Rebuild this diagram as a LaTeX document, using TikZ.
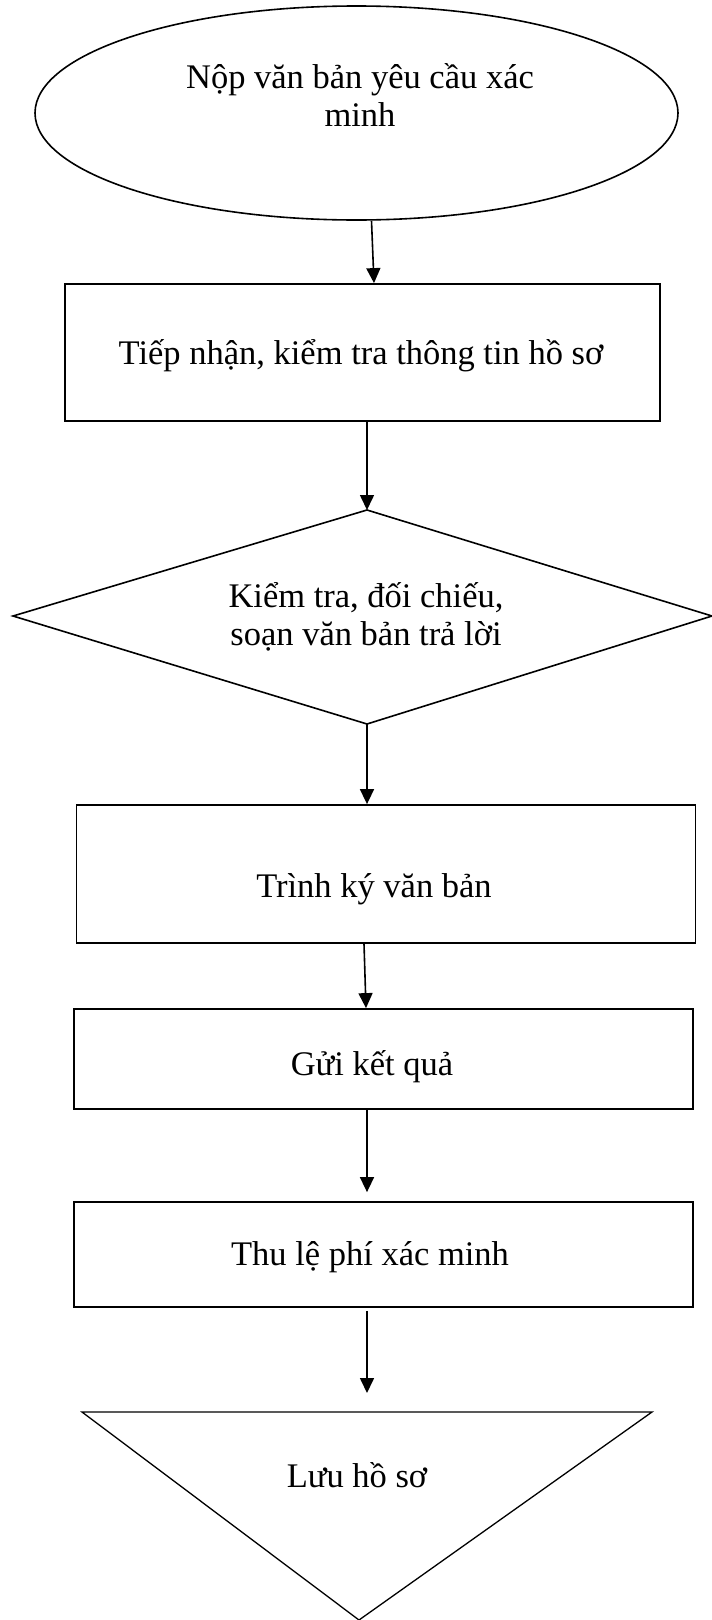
\documentclass[tikz,border=0pt]{standalone}
\usepackage{fontspec}
\setmainfont{Liberation Serif}
\usetikzlibrary{shapes.geometric,arrows.meta}
\begin{document}
\begin{tikzpicture}[x=1pt,y=-1pt,
  txt/.style={font=\fontsize{34.5}{38.5}\selectfont, align=center, inner sep=0pt},
  box/.style={draw, line width=1.8pt, rectangle, inner sep=0pt},
  flow/.style={draw, line width=1.6pt, -{Triangle[length=15pt,width=14pt]}}]
\useasboundingbox[fill=white] (0,0) rectangle (712,1620);

% start: request submitted
\node[draw, ellipse, line width=1.6pt, minimum width=643pt, minimum height=214pt, inner sep=0pt] (start) at (356.5,113) {};
\node[txt] (starttxt) at (360,95) {Nộp văn bản yêu cầu xác\\minh};

% receiving step
\node[box, minimum width=595pt, minimum height=137pt] (receive) at (362.5,352.5) {};
\node[txt] (receivetxt) at (361,356) {Tiếp nhận, kiểm tra thông tin hồ sơ};

% checking step (diamond)
\coordinate (dl) at (13,616);
\coordinate (dt) at (367,510);
\coordinate (dr) at (712,616);
\coordinate (db) at (367,724);
\draw[line width=1.6pt, line join=miter] (dl) -- (dt) -- (dr) -- (db) -- cycle;
\node[txt] (check) at (366,617) {Kiểm tra, đối chiếu,\\soạn văn bản trả lời};

% signing, sending, fee
\node[box, minimum width=619pt, minimum height=138pt] (sign) at (386,874) {};
\node[txt] (signtxt) at (374,889) {Trình ký văn bản};
\node[box, minimum width=619pt, minimum height=100pt] (send) at (383.5,1059) {};
\node[txt] (sendtxt) at (372,1067) {Gửi kết quả};
\node[box, minimum width=619pt, minimum height=105pt] (fee) at (383.5,1254.5) {};
\node[txt] (feetxt) at (370,1257) {Thu lệ phí xác minh};

% archive: downward triangle
\coordinate (tl) at (82,1412);
\coordinate (tr) at (652,1412);
\coordinate (tb) at (359,1620);
\draw[line width=1.3pt] (tl) -- (tr) -- (tb) -- cycle;
\node[txt] (archive) at (357,1475) {Lưu hồ sơ};
\coordinate (archtop) at (367,1393);

% connectors
\draw[flow] ([xshift=15pt]start.south) -- ([xshift=11.5pt]receive.north);
\draw[flow] (dt |- receive.south) -- (dt);
\draw[flow] (db) -- (db |- sign.north);
\draw[flow] ([xshift=-22pt]sign.south) -- ([xshift=-17.5pt]send.north);
\draw[flow] ([xshift=-16.5pt]send.south) -- ([xshift=-16.5pt,yshift=9pt]fee.north);
\draw[flow] ([xshift=-16.5pt,yshift=-3pt]fee.south) -- (archtop);
\end{tikzpicture}
\end{document}
